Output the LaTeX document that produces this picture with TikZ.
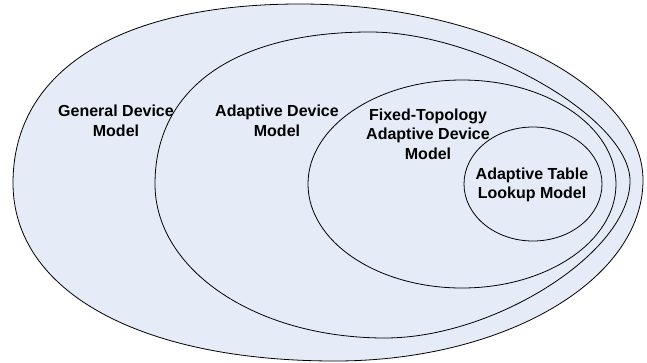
\documentclass[tikz,border=0pt]{standalone}
\usepackage{fontspec}
\setmainfont{Liberation Sans}
\usetikzlibrary{shapes.geometric}
\definecolor{fillblue}{RGB}{230,236,247}
\begin{document}
\begin{tikzpicture}[x=1pt,y=-1pt,
  setline/.style={draw=black,line width=0.8pt,fill=fillblue},
  setbox/.style={ellipse,setline,inner sep=0pt},
  lbl/.style={align=center,font=\fontsize{16}{19.5}\selectfont\bfseries,inner sep=0pt}]
\useasboundingbox (0,0) rectangle (647,362);
% General Device Model (outer, egg shaped)
\coordinate (gL) at (13,183);
\coordinate (gT) at (300,4);
\coordinate (gR) at (643,180);
\coordinate (gB) at (335,361);
\draw[setline] (gL) .. controls (13,70) and (120,4) .. (gT)
  .. controls (485,4) and (643,87) .. (gR)
  .. controls (643,280) and (505,361) .. (gB)
  .. controls (139,361) and (13,291) .. (gL) -- cycle;
% Adaptive Device Model
\coordinate (aL) at (155,184);
\coordinate (aT) at (370,32);
\coordinate (aR) at (630,181);
\coordinate (aB) at (385,338);
\draw[setline] (aL) .. controls (155,88) and (235,32) .. (aT)
  .. controls (479,32) and (630,118) .. (aR)
  .. controls (630,252) and (495,338) .. (aB)
  .. controls (256,338) and (155,270) .. (aL) -- cycle;
\node[setbox,minimum width=308pt,minimum height=208pt] (fixed) at (462,184) {};
\node[setbox,minimum width=138pt,minimum height=114pt] (table) at (533,184) {};
\node[lbl] (tgeneral) at (116,121) {General Device\\Model};
\node[lbl] (tadaptive) at (277,121) {Adaptive Device\\Model};
\node[lbl] (tfixed) at (428,134) {Fixed-Topology\\Adaptive Device\\Model};
\node[lbl] (ttable) at (532,185) {Adaptive Table\\Lookup Model};
\end{tikzpicture}
\end{document}
